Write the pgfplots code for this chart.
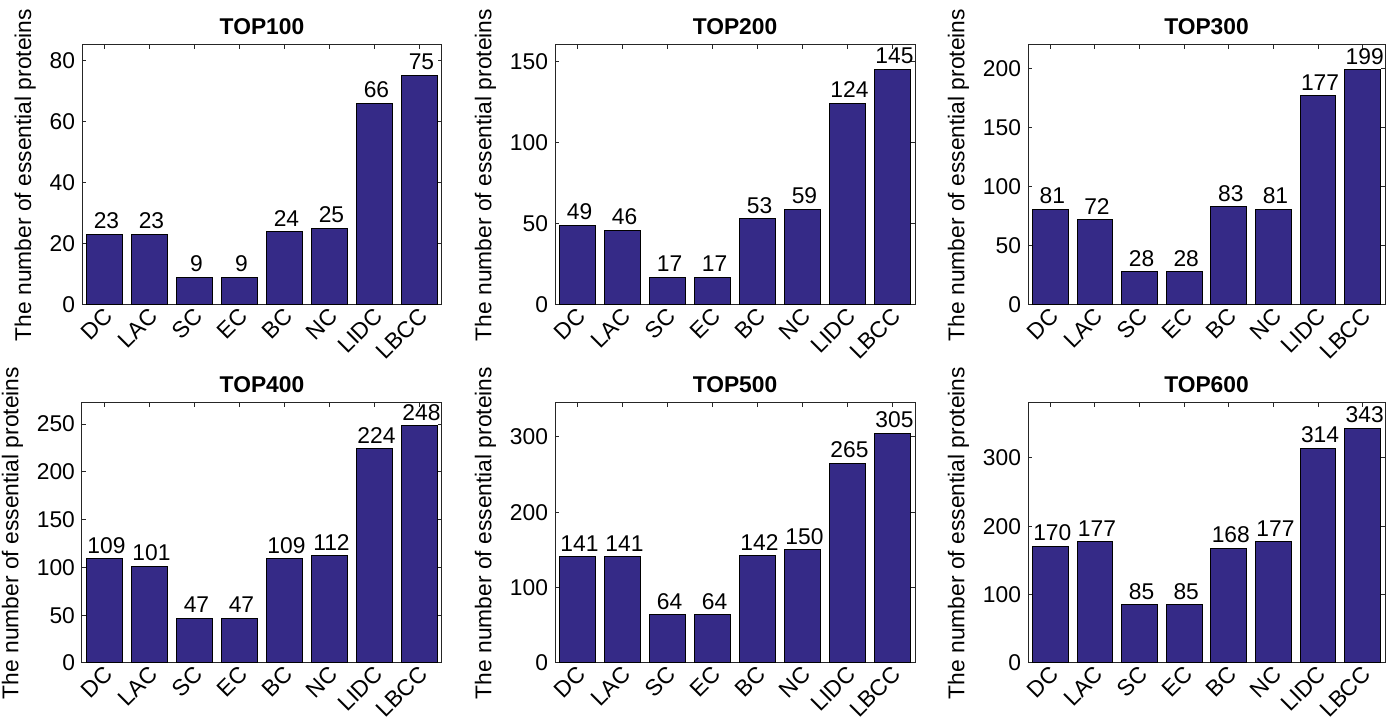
\documentclass[border=0pt]{standalone}
\usepackage{fontspec}
\setmainfont{Liberation Sans}
\usepackage{pgfplots}
\pgfplotsset{compat=1.18}
\definecolor{barblue}{RGB}{53,42,135}
\definecolor{axgray}{RGB}{38,38,38}
\newcommand{\ff}{\fontsize{11.4}{13.5}\selectfont}
\pgfplotsset{
  panel/.style={
    scale only axis, width=180pt, height=130pt,
    anchor=south west,
    ybar,
    xmin=0.5, xmax=8.5, ymin=0,
    xtick={1,...,8},
    xticklabels={DC,LAC,SC,EC,BC,NC,LIDC,LBCC},
    tick align=inside,
    xtick pos=both, ytick pos=both,
    major tick length=2pt,
    axis line style={axgray, line width=0.5pt},
    every tick/.style={axgray, line width=0.5pt},
    /pgf/number format/assume math mode=true,
    tick label style={font=\ff, text=black},
    x tick label style={rotate=45, anchor=east, inner sep=1pt, yshift=-4pt},
    ylabel={The number of essential proteins},
    ylabel style={font=\ff},
    title style={font=\bfseries\ff, yshift=-4.5pt},
    nodes near coords,
    every node near coord/.append style={font=\ff, inner sep=0pt, anchor=south, yshift=2.5pt, xshift=1pt, text=black},
    scaled y ticks=false,
  },
  mybar/.style={fill=barblue, draw=black, line width=0.5pt, bar width=0.8}
}
\begin{document}
\begin{tikzpicture}
\useasboundingbox (0,0) rectangle (697.5pt,360.5pt);
\begin{axis}[panel, at={(41pt,208pt)}, ymax=85, ytick={0,20,40,60,80}, title={TOP100}]
\addplot[mybar] coordinates {(1,23) (2,23) (3,9) (4,9) (5,24) (6,25) (7,66) (8,75)};
\end{axis}
\begin{axis}[panel, at={(277.5pt,208pt)}, ymax=160, ytick={0,50,100,150}, title={TOP200}]
\addplot[mybar] coordinates {(1,49) (2,46) (3,17) (4,17) (5,53) (6,59) (7,124) (8,145)};
\end{axis}
\begin{axis}[panel, at={(514pt,208pt)}, width=178.5pt, ymax=220, ytick={0,50,100,150,200}, title={TOP300}]
\addplot[mybar] coordinates {(1,81) (2,72) (3,28) (4,28) (5,83) (6,81) (7,177) (8,199)};
\end{axis}
\begin{axis}[panel, at={(41pt,29pt)}, ymax=272, ytick={0,50,100,150,200,250}, title={TOP400}]
\addplot[mybar] coordinates {(1,109) (2,101) (3,47) (4,47) (5,109) (6,112) (7,224) (8,248)};
\end{axis}
\begin{axis}[panel, at={(277.5pt,29pt)}, ymax=345, ytick={0,100,200,300}, title={TOP500}]
\addplot[mybar] coordinates {(1,141) (2,141) (3,64) (4,64) (5,142) (6,150) (7,265) (8,305)};
\end{axis}
\begin{axis}[panel, at={(514pt,29pt)}, width=178.5pt, ymax=380, ytick={0,100,200,300}, title={TOP600}]
\addplot[mybar] coordinates {(1,170) (2,177) (3,85) (4,85) (5,168) (6,177) (7,314) (8,343)};
\end{axis}
\end{tikzpicture}
\end{document}
